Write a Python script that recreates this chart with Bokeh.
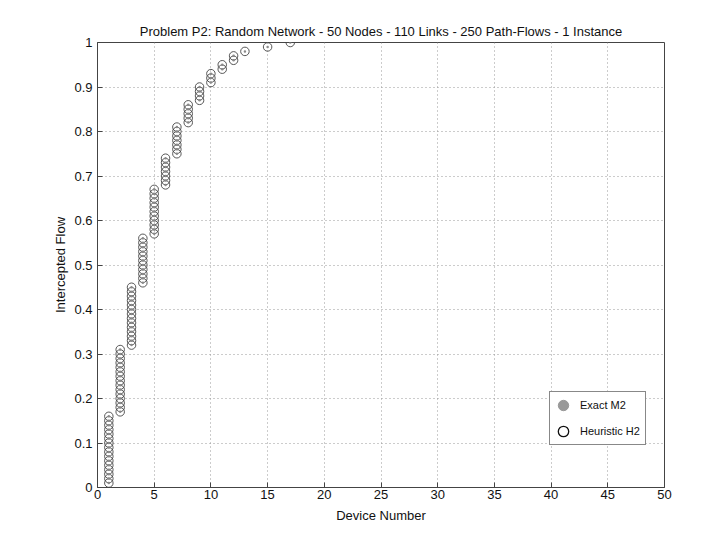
from bokeh.plotting import figure
from bokeh.models import (ColumnDataSource, FixedTicker, PrintfTickFormatter,
                          Legend, LegendItem)
from bokeh.embed import file_html
from bokeh.resources import INLINE

# ---- data (Exact M2 and Heuristic H2 coincide) ----
device = [1]*16 + [2]*15 + [3]*14 + [4]*11 + [5]*11 + [6]*7 + [7]*7 + [8]*5 + \
         [9]*4 + [10]*3 + [11]*2 + [12]*2 + [13] + [15] + [17]
flow = [0.01, 0.02, 0.03, 0.04, 0.05, 0.06, 0.07, 0.08, 0.09, 0.10, 0.11, 0.12, 0.13, 0.14, 0.15, 0.16,
        0.17, 0.18, 0.19, 0.20, 0.21, 0.22, 0.23, 0.24, 0.25, 0.26, 0.27, 0.28, 0.29, 0.30, 0.31,
        0.32, 0.33, 0.34, 0.35, 0.36, 0.37, 0.38, 0.39, 0.40, 0.41, 0.42, 0.43, 0.44, 0.45,
        0.46, 0.47, 0.48, 0.49, 0.50, 0.51, 0.52, 0.53, 0.54, 0.55, 0.56,
        0.57, 0.58, 0.59, 0.60, 0.61, 0.62, 0.63, 0.64, 0.65, 0.66, 0.67,
        0.68, 0.69, 0.70, 0.71, 0.72, 0.73, 0.74,
        0.75, 0.76, 0.77, 0.78, 0.79, 0.80, 0.81,
        0.82, 0.83, 0.84, 0.85, 0.86,
        0.87, 0.88, 0.89, 0.90,
        0.91, 0.92, 0.93,
        0.94, 0.95,
        0.96, 0.97,
        0.98,
        0.99,
        1.00]
exact_device = device
exact_flow = flow
heuristic_device = device
heuristic_flow = flow

x_ticks = [0, 5, 10, 15, 20, 25, 30, 35, 40, 45, 50]
y_ticks = [0, 0.1, 0.2, 0.3, 0.4, 0.5, 0.6, 0.7, 0.8, 0.9, 1]

FONT = "Liberation Sans"

p = figure(frame_width=567, frame_height=445, x_range=(0, 50), y_range=(0, 1),
           output_backend="svg", toolbar_location=None,
           min_border_left=97, min_border_right=30, min_border_top=42, min_border_bottom=40,
           title="Problem P2: Random Network - 50 Nodes - 110 Links - 250 Path-Flows - 1 Instance")

p.title.align = "center"
p.title.text_font = FONT
p.title.text_font_size = "13px"
p.title.text_font_style = "normal"
p.title.text_color = "#111111"
p.title.standoff = 8

p.outline_line_color = "#444444"
p.outline_line_width = 1
p.background_fill_color = "white"
p.border_fill_color = "white"

for ax in (p.xaxis[0], p.yaxis[0]):
    ax.axis_line_color = "#444444"
    ax.major_tick_in = 5
    ax.major_tick_out = 0
    ax.minor_tick_in = 0
    ax.minor_tick_out = 0
    ax.major_tick_line_color = "#444444"
    ax.major_label_text_font = FONT
    ax.major_label_text_font_size = "13px"
    ax.major_label_text_color = "#111111"
    ax.axis_label_text_font = FONT
    ax.axis_label_text_font_size = "13px"
    ax.axis_label_text_font_style = "normal"
    ax.axis_label_text_color = "#111111"

p.xaxis.ticker = FixedTicker(ticks=x_ticks)
p.yaxis.ticker = FixedTicker(ticks=y_ticks)
p.xaxis.formatter = PrintfTickFormatter(format="%g")
p.yaxis.formatter = PrintfTickFormatter(format="%g")
p.xaxis.axis_label = "Device Number"
p.yaxis.axis_label = "Intercepted Flow"
p.xaxis.major_label_standoff = 2
p.xaxis.axis_label_standoff = 6
p.yaxis.major_label_standoff = 5
p.yaxis.axis_label_standoff = 3

p.grid.grid_line_color = "#999999"
p.grid.grid_line_dash = "1 3"
p.grid.grid_line_width = 1

src = ColumnDataSource(dict(x=heuristic_device, y=heuristic_flow))
src_e = ColumnDataSource(dict(x=exact_device, y=exact_flow))

p.scatter("x", "y", source=src, marker="circle", size=8.5, fill_color=None,
          line_color="#444444", line_width=0.9)
p.scatter("x", "y", source=src_e, marker="circle", size=2.5, fill_color="#8a8a8a",
          line_color=None)

# legend glyph renderers (a single non-drawn NaN point each)
nan = float("nan")
leg_e = p.scatter(x=[nan], y=[nan], marker="circle", size=14, fill_color="#999999",
                  line_color="#999999")
leg_h = p.scatter(x=[nan], y=[nan], marker="circle", size=14, fill_color="white",
                  line_color="#111111", line_width=1.3)

legend = Legend(items=[LegendItem(label="Exact M2", renderers=[leg_e]),
                       LegendItem(label="Heuristic H2", renderers=[leg_h])],
                location=(452, 42), border_line_color="#111111", border_line_width=1,
                label_text_font=FONT, label_text_font_size="11px", label_text_color="#111111",
                glyph_width=26, glyph_height=26, padding=0, spacing=-4, label_standoff=4,
                label_width=65, margin=0, background_fill_alpha=1)
p.add_layout(legend, "center")

open("out.html", "w").write(file_html(p, INLINE))
